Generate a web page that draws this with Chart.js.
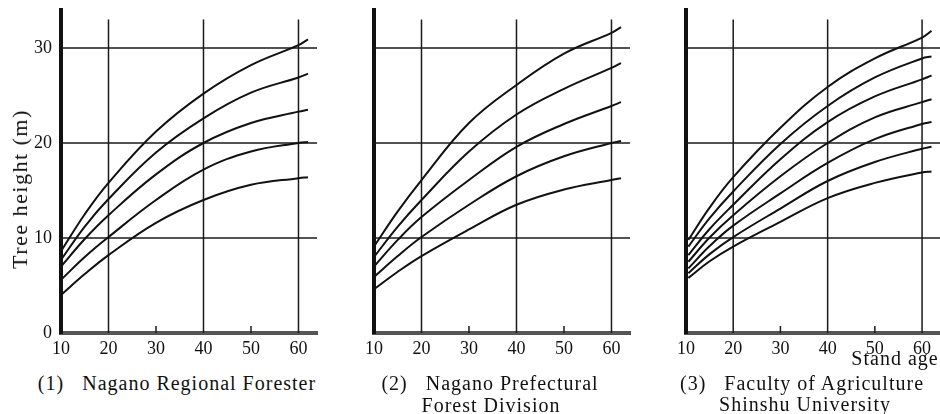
<!DOCTYPE html>
<html><head><meta charset="utf-8">
<script src="https://cdn.jsdelivr.net/npm/chart.js@4"></script>
<style>
html,body{margin:0;padding:0;background:#fff;width:940px;height:414px;overflow:hidden;position:relative;font-family:"Liberation Serif",serif;color:#111}
canvas{position:absolute;top:0}
.t{position:absolute;font-size:20px;letter-spacing:1px;white-space:pre;transform:translate(-50%,-50%);line-height:1}
</style></head><body>
<canvas id="c1" width="320" height="360" style="left:0px"></canvas>
<canvas id="c2" width="320" height="360" style="left:313px"></canvas>
<canvas id="c3" width="315" height="360" style="left:625px"></canvas>
<div class="t" style="left:20px;top:189px;font-size:22px;letter-spacing:1.5px;transform:translate(-50%,-50%) rotate(-90deg)">Tree height (m)</div>
<div class="t" style="left:895px;top:358px">Stand age</div>
<div class="t" style="left:177px;top:383px">(1)   Nagano Regional Forester</div>
<div class="t" style="left:490px;top:383px">(2)   Nagano Prefectural</div>
<div class="t" style="left:491px;top:405px">Forest Division</div>
<div class="t" style="left:802px;top:383px">(3)   Faculty of Agriculture</div>
<div class="t" style="left:805px;top:404px">Shinshu University</div>
<script>
// ---- data ----
const xTickValues = [10, 20, 30, 40, 50, 60];
const yTickValues = [0, 10, 20, 30];
const xGridValues = [20, 40, 60];
const yGridValues = [10, 20, 30];
const xMinorTicks = [30, 50];

const panel1Ages = [10, 15, 20, 30, 40, 50, 60, 62];
const panel1Curves = [
  [8.6, 12.5, 15.8, 21.2, 25.2, 28.2, 30.3, 30.9],
  [7.7, 11.2, 14.1, 19.0, 22.6, 25.3, 26.9, 27.3],
  [7.0, 9.9, 12.4, 16.7, 20.0, 22.1, 23.3, 23.5],
  [5.6, 8.0, 10.1, 14.0, 17.2, 19.1, 20.0, 20.1],
  [4.0, 6.2, 8.2, 11.6, 14.0, 15.6, 16.3, 16.4]
];

const panel2Ages = [10, 15, 20, 30, 40, 50, 60, 62];
const panel2Curves = [
  [9.1, 12.8, 16.1, 22.1, 26.1, 29.4, 31.6, 32.2],
  [8.0, 11.2, 14.0, 19.1, 23.0, 25.7, 27.9, 28.4],
  [7.0, 9.8, 12.2, 16.1, 19.6, 22.0, 23.9, 24.3],
  [5.9, 8.1, 10.1, 13.5, 16.5, 18.6, 20.0, 20.2],
  [4.6, 6.45, 8.1, 10.9, 13.5, 15.1, 16.1, 16.3]
];

const panel3Ages = [10.5, 15, 20, 30, 40, 50, 60, 62];
const panel3Curves = [
  [9.8, 13.2, 16.4, 21.6, 25.9, 28.9, 31.1, 31.8],
  [9.1, 12.1, 14.9, 19.9, 23.9, 26.9, 28.9, 29.1],
  [8.2, 10.95, 13.5, 18.3, 22.2, 24.9, 26.7, 27.1],
  [7.5, 10.05, 12.4, 16.5, 20.0, 22.7, 24.3, 24.6],
  [6.8, 9.15, 11.3, 14.7, 17.9, 20.4, 22.0, 22.2],
  [6.3, 8.3, 10.1, 13.1, 16.0, 18.0, 19.4, 19.6],
  [5.8, 7.55, 9.1, 11.7, 14.2, 15.8, 16.9, 17.0]
];

const gridTopValue = 33;

// ---- drawing ----
const refGrid = {
  id: 'refGrid',
  beforeDatasetsDraw(chart) {
    const {ctx, chartArea: a, scales: {x, y}} = chart;
    ctx.save();
    ctx.strokeStyle = '#1a1a1a';
    ctx.lineWidth = 1.5;
    for (const v of yGridValues) {
      const py = y.getPixelForValue(v);
      ctx.beginPath(); ctx.moveTo(a.left, py); ctx.lineTo(a.right, py); ctx.stroke();
    }
    for (const v of xGridValues) {
      const px = x.getPixelForValue(v);
      ctx.beginPath(); ctx.moveTo(px, y.getPixelForValue(gridTopValue)); ctx.lineTo(px, a.bottom); ctx.stroke();
    }
    for (const v of xMinorTicks) {
      const px = x.getPixelForValue(v);
      ctx.beginPath(); ctx.moveTo(px, a.bottom); ctx.lineTo(px, a.bottom - 7); ctx.stroke();
    }
    ctx.restore();
  }
};

const tickFont = {family: '"Liberation Serif", serif', size: 18};

function makeChart(id, ages, curves, showY, xMax, padRight) {
  new Chart(document.getElementById(id), {
    type: 'line',
    data: {
      datasets: curves.map(c => ({
        data: ages.map((a, i) => ({x: a, y: c[i]})),
        borderColor: '#111',
        borderWidth: 2,
        pointRadius: 0,
        fill: false,
        tension: 0.4
      }))
    },
    options: {
      responsive: false,
      animation: false,
      devicePixelRatio: 1,
      layout: {padding: {top: 10, right: padRight, left: 0, bottom: 0}},
      plugins: {legend: {display: false}, tooltip: {enabled: false}},
      scales: {
        x: {
          type: 'linear', min: 10, max: xMax,
          afterBuildTicks: s => { s.ticks = xTickValues.map(v => ({value: v})); },
          ticks: {font: tickFont, color: '#111', padding: 5, maxRotation: 0, autoSkip: false},
          grid: {display: false, drawTicks: false},
          border: {display: true, width: 4, color: '#555'},
          afterFit: s => { s.height = 27; s.paddingLeft = 0; s.paddingRight = 0; }
        },
        y: {
          type: 'linear', min: 0, max: 34,
          afterBuildTicks: s => { s.ticks = yTickValues.map(v => ({value: v})); },
          ticks: {display: showY, font: tickFont, color: '#111', padding: 9},
          grid: {display: false, drawTicks: false},
          border: {display: true, width: 4, color: '#111'},
          afterFit: s => { s.width = 61; s.paddingTop = 0; s.paddingBottom = 0; }
        }
      }
    },
    plugins: [refGrid]
  });
}

makeChart('c1', panel1Ages, panel1Curves, true, 63.9, 3);
makeChart('c2', panel2Ages, panel2Curves, false, 63.9, 3);
makeChart('c3', panel3Ages, panel3Curves, false, 63.8, 0);
</script>
</body></html>
